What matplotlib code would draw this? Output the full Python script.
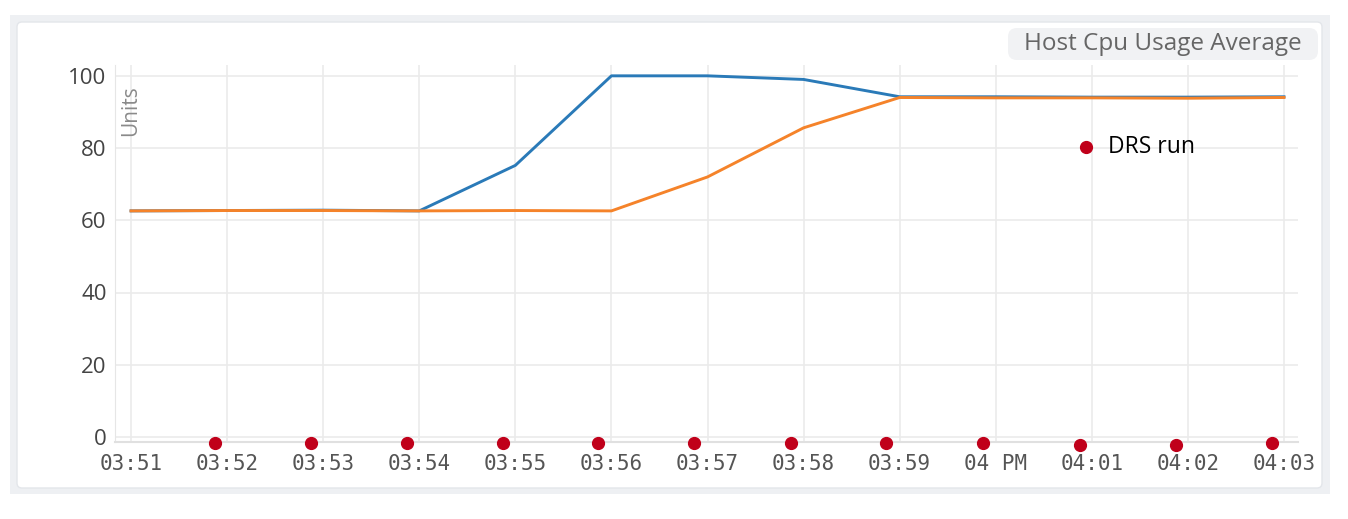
import matplotlib.pyplot as plt
from matplotlib.patches import FancyBboxPatch
from matplotlib.transforms import IdentityTransform

# minutes since 03:51
minutes = list(range(13))
tick_labels = ["03:51", "03:52", "03:53", "03:54", "03:55", "03:56", "03:57",
               "03:58", "03:59", "04 PM", "04:01", "04:02", "04:03"]
blue_vals = [62.6, 62.7, 62.8, 62.6, 75.2, 100.0, 100.0, 99.0, 94.2, 94.2, 94.1, 94.1, 94.2]
orange_vals = [62.6, 62.7, 62.7, 62.6, 62.7, 62.6, 72.0, 85.6, 94.0, 93.9, 93.9, 93.8, 94.0]
drs_times = [0.87, 1.87, 2.87, 3.87, 4.86, 5.86, 6.87, 7.86, 8.87, 9.88, 10.88, 11.88]
drs_vals = [-1.6, -1.6, -1.6, -1.6, -1.6, -1.6, -1.6, -1.6, -1.6, -2.1, -2.1, -1.6]

W, H = 1348, 519
fig = plt.figure(figsize=(W / 100, H / 100), dpi=100)
fig.patch.set_facecolor("white")


def px_box(x0, y0, x1, y1, **kw):
    # box given in image pixels (top-left origin), drawn in display coords
    p = FancyBboxPatch((x0, H - y1), x1 - x0, y1 - y0, transform=IdentityTransform(), **kw)
    fig.patches.append(p)
    return p


# outer grey panel, white card, title badge
px_box(10, 15, 1330, 494, boxstyle="square,pad=0", facecolor="#eef0f3",
       edgecolor="none", zorder=-10)
px_box(17, 22, 1322, 488, boxstyle="round,pad=0,rounding_size=5", facecolor="white",
       edgecolor="#e3e6ea", linewidth=1, zorder=-9)
px_box(1008, 28, 1318, 60, boxstyle="round,pad=0,rounding_size=9", facecolor="#f1f2f4",
       edgecolor="none", zorder=-8)

ax = fig.add_axes([115 / W, 1 - 442 / H, 1183 / W, 377 / H])
ax.set_facecolor("none")

ax.plot(minutes, blue_vals, color="#2a7ab8", lw=2.1, zorder=3)
ax.plot(minutes, orange_vals, color="#f5832a", lw=2.1, zorder=4)
ax.plot(drs_times, drs_vals, "o", color="#c0001a", ms=8.5, clip_on=False, zorder=5)

ax.set_xlim(-0.167, 12.146)
ax.set_ylim(-1.4, 103.0)
ax.set_xticks(minutes)
ax.set_xticklabels(tick_labels, family="DejaVu Sans Mono", fontsize=15, color="#555555")
ax.set_yticks([0, 20, 40, 60, 80, 100])
ax.set_yticklabels(["0", "20", "40", "60", "80", "100"], family="Open Sans",
                   fontsize=16, color="#444444")
ax.tick_params(length=0, pad=6)
ax.tick_params(axis="x", pad=9)
ax.grid(True, color="#ebebeb", lw=1.2)
ax.set_axisbelow(True)
for side in ["top", "right"]:
    ax.spines[side].set_visible(False)
ax.spines["left"].set_color("#e6e6e6")
ax.spines["bottom"].set_color("#e0e0e0")
ax.spines["bottom"].set_linewidth(1.5)

ax.text(0.0, 97.5, "Units", rotation=90, ha="center", va="top", family="Open Sans",
        fontsize=15, color="#8a8a8a")

# legend-like annotation
ax.plot([9.94], [80.3], "o", color="#c0001a", ms=8.5, zorder=5)
ax.text(10.17, 80.3, "DRS run", ha="left", va="center", family="Open Sans",
        fontsize=16.5, color="black")

# title
fig.text(1163 / W, 1 - 44 / H, "Host Cpu Usage Average", ha="center", va="center",
         family="Open Sans", fontsize=17.5, color="#666666")

fig.savefig("out.png", dpi=100)
